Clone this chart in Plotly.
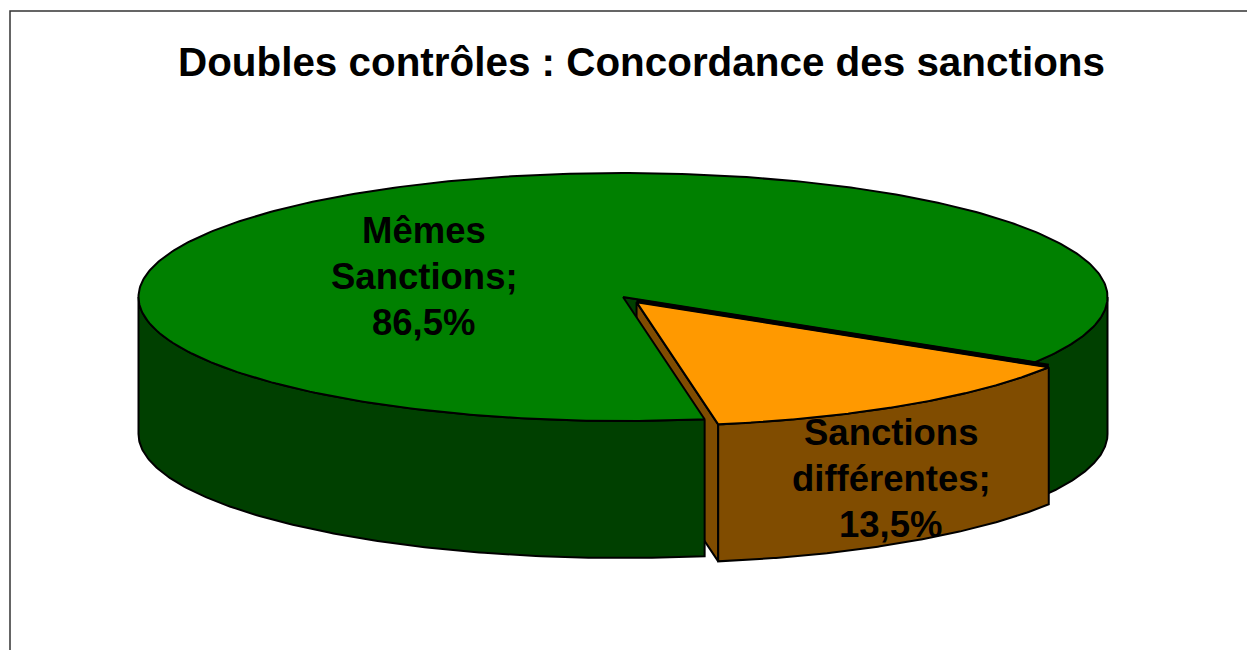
import numpy as np
import plotly.graph_objects as go

title = "Doubles contrôles : Concordance des sanctions"
categories = ["Mêmes Sanctions", "Sanctions différentes"]
values = [86.5, 13.5]

# drawing style and projection of the tilted pie
CX, CY, RX, RY, DEPTH = 623.0, 297.0, 484.5, 124.0, 137.0
ROTATION = 31.7
EXPLODE = 0.05
GREEN, GREEN_DARK = "#008000", "#004000"
ORANGE, ORANGE_DARK = "#FF9900", "#804C00"
FONT = "Liberation Sans, Arial, sans-serif"

sweep = values[1] / sum(values) * 360.0
t0, t1 = ROTATION, ROTATION + sweep
mid = np.radians((t0 + t1) / 2)
ox, oy = CX + EXPLODE * RX * np.cos(mid), CY + EXPLODE * RY * np.sin(mid)


def arc(cx, cy, a, b, n=160):
    t = np.radians(np.linspace(a, b, n))
    return cx + RX * np.cos(t), cy + RY * np.sin(t)


def wall(cx, cy, a, b):
    x, y = arc(cx, cy, a, b)
    return np.r_[x, x[::-1], x[0]], np.r_[y, y[::-1] + DEPTH, y[0]]


def cut(cx, cy, a):
    x, y = arc(cx, cy, a, a, 1)
    return (np.array([cx, x[0], x[0], cx, cx]),
            np.array([cy, y[0], y[0] + DEPTH, cy + DEPTH, cy]))


def top(cx, cy, a, b):
    x, y = arc(cx, cy, a, b, 400)
    return np.r_[cx, x, cx], np.r_[cy, y, cy]


pieces = [
    (cut(CX, CY, t0), GREEN_DARK),
    (cut(ox, oy, t1), ORANGE_DARK),
    (wall(CX, CY, 0, t0), GREEN_DARK),
    (wall(CX, CY, t1, 180), GREEN_DARK),
    (top(CX, CY, t1, 360 + t0), GREEN),
    (wall(ox, oy, t0, t1), ORANGE_DARK),
    (top(ox, oy, t0, t1), ORANGE),
]

fig = go.Figure()
for (x, y), color in pieces:
    fig.add_trace(go.Scatter(x=x, y=y, mode="lines", fill="toself", fillcolor=color,
                             line=dict(color="black", width=2), hoverinfo="skip"))

# heavy seam where the two slices meet along the upper edge of the small slice
seam_x, seam_y = arc(ox, oy, t0, t0, 1)
fig.add_trace(go.Scatter(x=[ox, seam_x[0]], y=[oy - 1.5, seam_y[0] - 1.5], mode="lines",
                         line=dict(color="black", width=4), hoverinfo="skip"))

LINE_STEP = 46
label_centres = [(424, 276), (891, 478)]
annotations = []
for name, value, (px, py) in zip(categories, values, label_centres):
    lines = name.split(" ")
    lines[-1] += ";"
    lines.append(f"{value:.1f}".replace(".", ",") + "%")
    for i, line in enumerate(lines):
        annotations.append(dict(
            x=px, y=py + (i - (len(lines) - 1) / 2) * LINE_STEP, xref="x", yref="y",
            text=f"<b>{line}</b>", showarrow=False, xanchor="center", yanchor="middle",
            font=dict(family=FONT, size=36.5, color="black")))
annotations.append(dict(x=641, y=62, xref="x", yref="y", text=f"<b>{title}</b>", showarrow=False,
                        xanchor="center", yanchor="middle",
                        font=dict(family=FONT, size=40.4, color="black")))

fig.update_layout(
    width=1247, height=650, margin=dict(l=0, r=0, t=0, b=0),
    paper_bgcolor="white", plot_bgcolor="white", showlegend=False,
    xaxis=dict(range=[0, 1247], visible=False),
    yaxis=dict(range=[650, 0], visible=False),
    annotations=annotations,
    shapes=[dict(type="rect", xref="x", yref="y", x0=10, y0=11, x1=1300, y1=700,
                 line=dict(color="#333333", width=1.5), layer="below")],
)
fig.write_html("out.html", config=dict(displayModeBar=False),
               post_script="document.body.style.margin='0';document.body.style.overflow='hidden';")
